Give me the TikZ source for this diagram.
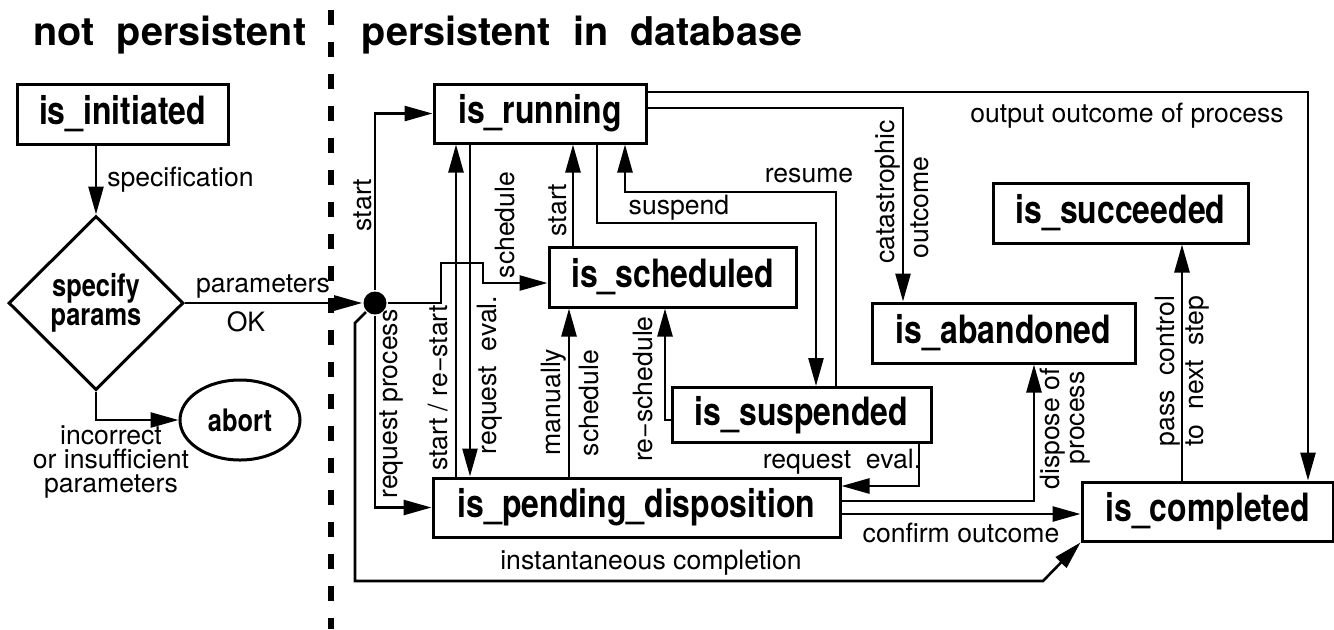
\documentclass[tikz,border=0pt]{standalone}
\usepackage{fontspec}
\setmainfont{TeX Gyre Heros}
\newfontfamily\narrowfont[FakeStretch=0.82]{TeX Gyre Heros}
\usetikzlibrary{arrows.meta, shapes.geometric}

\begin{document}
\begin{tikzpicture}[x=0.5pt, y=-0.5pt, line width=1.3pt, >={Triangle[length=14pt,width=7.5pt]},
  state/.style={draw, rectangle, line width=1.5pt, inner sep=0pt, font=\narrowfont\bfseries\fontsize{19.5}{23}\selectfont},
  small/.style={inner sep=0pt, align=center, font=\narrowfont\bfseries\fontsize{15.5}{14.5}\selectfont},
  lbl/.style={inner sep=0pt, font=\fontsize{13.3}{15.5}\selectfont},
  vlbl/.style={lbl, rotate=90}]
  \useasboundingbox (0,0) rectangle (1334,629);

  %% headings and divider
  \node (np) at (170,35) [font=\bfseries\fontsize{19.8}{22}\selectfont] {not~~persistent};
  \node (pd) at (582,35) [font=\bfseries\fontsize{19.8}{22}\selectfont] {persistent~~in~~database};
  \draw[line width=3pt, dash pattern=on 7.5pt off 8.5pt] (331,10) -- (331,629);

  %% not persistent part
  \node (init) at (122.5,114) [state, minimum width=105.5pt, minimum height=30pt] {is\_initiated};
  \node (spec) at (96,303) [draw, diamond, aspect=1, line width=1.5pt, minimum width=87.5pt, minimum height=87pt, small] {specify\\params};
  \node (abort) at (240,420) [draw, ellipse, line width=1.5pt, minimum width=60pt, minimum height=40pt, small] {abort};
  \node (dot) at (375,303) [circle, fill, inner sep=0pt, minimum size=11.5pt] {};

  %% states
  \node (run) at (540,113.5) [state, minimum width=106pt, minimum height=29.5pt] {is\_running};
  \node (sched) at (672.5,277) [state, minimum width=123.5pt, minimum height=30pt] {is\_scheduled};
  \node (susp) at (801.5,415) [state, minimum width=129.5pt, minimum height=27.5pt] {is\_suspended};
  \node (aband) at (1003.5,333) [state, minimum width=131.5pt, minimum height=30pt] {is\_abandoned};
  \node (succ) at (1120.5,213) [state, minimum width=127.5pt, minimum height=30pt] {is\_succeeded};
  \node (pend) at (636.5,507.5) [state, minimum width=203.5pt, minimum height=29.5pt] {is\_pending\_disposition};
  \node (compl) at (1207.5,511.5) [state, minimum width=125.5pt, minimum height=29.5pt] {is\_completed};

  %% helper coordinates for the lanes
  \coordinate (xa) at (456,0);
  \coordinate (xb) at (470,0);
  \coordinate (xc) at (573,0);
  \coordinate (xd) at (569,0);
  \coordinate (xe) at (597,0);
  \coordinate (xf) at (625,0);
  \coordinate (xg) at (665,0);
  \coordinate (xh) at (816,0);
  \coordinate (xi) at (836,0);
  \coordinate (xj) at (903,0);
  \coordinate (xk) at (919,0);
  \coordinate (xl) at (1034,0);
  \coordinate (xm) at (1182,0);
  \coordinate (xn) at (1308,0);
  \coordinate (ya) at (0,92);
  \coordinate (yb) at (0,108);
  \coordinate (yc) at (0,223);
  \coordinate (yd) at (0,192);
  \coordinate (ye) at (0,420);
  \coordinate (yf) at (0,486);
  \coordinate (yg) at (0,501);
  \coordinate (yh) at (0,514);
  \coordinate (s1) at (441,263);
  \coordinate (s2) at (483,283);
  \coordinate (i1) at (355,323);
  \coordinate (i2) at (1043,581);

  %% connectors
  \draw[->] (init.south -| spec.north) -- (spec.north);
  \draw[->] (spec.east) -- (dot);
  \draw[->] (spec.south) |- (abort.west);
  \draw[->] (dot) |- (run.west);
  \draw[->] (dot) -| (s1) -| (s2) -- (s2 -| sched.west);
  \draw[->] (dot) |- (pend.west);
  \draw[->] (dot) -- (i1) |- (i2) -- (compl.south west);

  \draw[->] (pend.north -| xa) -- (run.south -| xa);
  \draw[->] (run.south -| xb) -- (pend.north -| xb);
  \draw[->] (sched.north -| xc) -- (run.south -| xc);
  \draw[->] (pend.north -| xd) -- (sched.south -| xd);
  \draw[->] (run.south -| xe) |- (xh |- yc) -- (susp.north -| xh);
  \draw[->] (susp.north -| xi) |- (xf |- yd) -- (run.south -| xf);
  \draw[->] (susp.west |- ye) -| (sched.south -| xg);
  \draw[->] (run.east |- yb) -| (aband.north -| xj);
  \draw[->] (run.east |- ya) -| (compl.north -| xn);
  \draw[->] (susp.south -| xk) |- (pend.east |- yf);
  \draw[->] (pend.east |- yg) -| (aband.south -| xl);
  \draw[->] (pend.east |- yh) -- (compl.west |- yh);
  \draw[->] (compl.north -| xm) -- (succ.south -| xm);

  %% labels
  \node (l1) at (106,180) [lbl, anchor=west] {specification};
  \node (l2) at (263,287) [lbl] {parameters};
  \node (l3) at (246,322) [lbl] {OK};
  \node (l4) at (111,462) [lbl, align=center, font=\fontsize{13.3}{11.8}\selectfont] {incorrect\\or insufficient\\parameters};
  \node (l5) at (363,205) [vlbl] {start};
  \node (l6) at (505,225) [vlbl] {schedule};
  \node (l7) at (392,404) [vlbl] {request process};
  \node (l8) at (438,388) [vlbl] {start / re−start};
  \node (l9) at (490,375) [vlbl] {request~~eval.};
  \node (l10) at (558,210) [vlbl] {start};
  \node (l11) at (554,402) [vlbl] {manually};
  \node (l12) at (589,403) [vlbl] {schedule};
  \node (l13) at (643,389) [vlbl] {re−schedule};
  \node (l14) at (679,208) [lbl] {suspend};
  \node (l15) at (809,176) [lbl] {resume};
  \node (l16) at (888,192) [vlbl] {catastrophic};
  \node (l17) at (920,207.5) [vlbl] {outcome};
  \node (l18) at (1127,116) [lbl] {output outcome of process};
  \node (l19) at (1053,429) [vlbl] {dispose of};
  \node (l20) at (1080,418) [vlbl] {process};
  \node (l21) at (1168,371) [vlbl] {pass~~control};
  \node (l22) at (1198,371) [vlbl] {to~~next~~step};
  \node (l23) at (842,462) [lbl] {request~~eval.};
  \node (l24) at (961,533) [lbl] {confirm outcome};
  \node (l25) at (651,563) [lbl] {instantaneous completion};
\end{tikzpicture}
\end{document}
